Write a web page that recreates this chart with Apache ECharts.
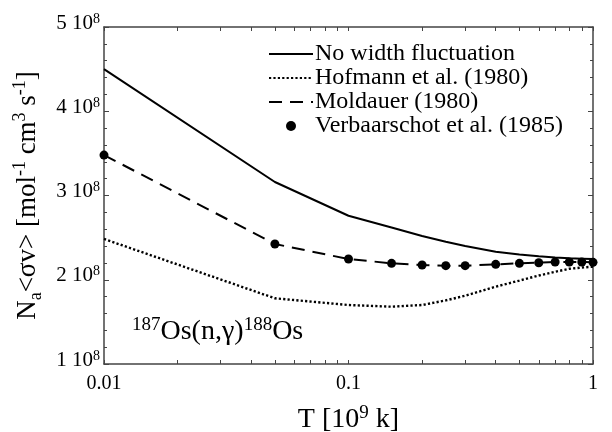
<!DOCTYPE html>
<html><head><meta charset="utf-8">
<script src="https://cdn.jsdelivr.net/npm/echarts@6/dist/echarts.min.js"></script>
<style>html,body{margin:0;padding:0;background:#fff}#c{width:612px;height:432px}</style>
</head><body><div id="c"></div>
<script>
// ---- data ----
const temps = [0.01, 0.05, 0.1, 0.15, 0.2, 0.25, 0.3, 0.4, 0.5, 0.6, 0.7, 0.8, 0.9, 1.0];
const noWidthFluct = [4.50e8, 3.16e8, 2.76e8, 2.62e8, 2.52e8, 2.45e8, 2.40e8, 2.333e8, 2.30e8, 2.28e8, 2.265e8, 2.255e8, 2.25e8, 2.245e8];
const hofmann = [2.484e8, 1.78e8, 1.70e8, 1.68e8, 1.70e8, 1.755e8, 1.81e8, 1.918e8, 1.99e8, 2.05e8, 2.095e8, 2.13e8, 2.145e8, 2.155e8];
const moldauer = [3.48e8, 2.424e8, 2.246e8, 2.195e8, 2.175e8, 2.167e8, 2.167e8, 2.183e8, 2.195e8, 2.202e8, 2.211e8, 2.211e8, 2.211e8, 2.207e8];
const verbaarschot = [3.48e8, 2.424e8, 2.246e8, 2.195e8, 2.175e8, 2.167e8, 2.167e8, 2.183e8, 2.195e8, 2.202e8, 2.211e8, 2.211e8, 2.211e8, 2.207e8];
const seriesNames = ['No width fluctuation', 'Hofmann et al. (1980)', 'Moldauer (1980)', 'Verbaarschot et al. (1985)'];
const xTickValues = [0.01, 0.02, 0.03, 0.04, 0.05, 0.06, 0.07, 0.08, 0.09, 0.1, 0.2, 0.3, 0.4, 0.5, 0.6, 0.7, 0.8, 0.9, 1];
const xTickLabels = [0.01, 0.1, 1];

const FONT = 'Liberation Serif';
const pairs = arr => temps.map((t, i) => [t, arr[i]]);

const chart = echarts.init(document.getElementById('c'), null, {renderer: 'canvas'});
const axisLine = {show: true, lineStyle: {color: '#444', width: 1.5}};
const xCommon = {
  type: 'log', logBase: 10, min: 0.01, max: 1,
  axisLine: axisLine,
  axisTick: {show: true, inside: true, length: 4, customValues: xTickValues, lineStyle: {color: '#444', width: 1}},
  splitLine: {show: false}, minorTick: {show: false}
};
const yCommon = {
  type: 'value', min: 1e8, max: 5e8, interval: 1e8,
  axisLine: axisLine,
  axisTick: {show: true, inside: true, length: 5, lineStyle: {color: '#444', width: 1}},
  minorTick: {show: true, splitNumber: 5, length: 3, lineStyle: {color: '#444', width: 1}},
  splitLine: {show: false}, minorSplitLine: {show: false}
};

chart.setOption({
  animation: false,
  backgroundColor: '#fff',
  grid: {left: 104, right: 19, top: 27, bottom: 68, containLabel: false, outerBoundsMode: 'none'},
  xAxis: [
    Object.assign({}, xCommon, {
      position: 'bottom',
      axisLabel: {show: true, customValues: xTickLabels, margin: 10, fontFamily: FONT, fontSize: 20, color: '#000',
        formatter: v => String(v)},
      name: '{b|T [10}{s|9}{b| k]}', nameLocation: 'middle', nameGap: 40,
      nameTextStyle: {rich: {
        b: {fontFamily: FONT, fontSize: 28, color: '#000', lineHeight: 32},
        s: {fontFamily: FONT, fontSize: 19, color: '#000', lineHeight: 20, verticalAlign: 'top'}
      }}
    }),
    Object.assign({}, xCommon, {position: 'top', axisLabel: {show: false}})
  ],
  yAxis: [
    Object.assign({}, yCommon, {
      position: 'left',
      axisLabel: {show: true, margin: 4, padding: [0, 0, 8, 0],
        formatter: v => '{b|' + Math.round(v / 1e8) + ' 10}{s|8}',
        rich: {
          b: {fontFamily: FONT, fontSize: 21, color: '#000', lineHeight: 22},
          s: {fontFamily: FONT, fontSize: 14, color: '#000', lineHeight: 14, verticalAlign: 'top'}
        }},
      name: '{b|N}{d|a}{b|<σv> [mol}{s|-1}{b| cm}{s|3}{b| s}{s|-1}{b|]}',
      nameLocation: 'middle', nameGap: 57, nameRotate: 90,
      nameTextStyle: {rich: {
        b: {fontFamily: FONT, fontSize: 27, color: '#000', lineHeight: 34},
        s: {fontFamily: FONT, fontSize: 18, color: '#000', lineHeight: 20, verticalAlign: 'top'},
        d: {fontFamily: FONT, fontSize: 18, color: '#000', lineHeight: 20, verticalAlign: 'bottom'}
      }}
    }),
    Object.assign({}, yCommon, {position: 'right', axisLabel: {show: false}})
  ],
  legend: {
    left: 268, top: 42, padding: 0, orient: 'vertical', itemWidth: 44, itemHeight: 10, itemGap: 0,
    data: [
      {name: seriesNames[0], itemStyle: {opacity: 0}},
      {name: seriesNames[1], itemStyle: {opacity: 0}},
      {name: seriesNames[2], itemStyle: {opacity: 0}},
      {name: seriesNames[3]}
    ],
    textStyle: {fontFamily: FONT, fontSize: 24, color: '#000', lineHeight: 23.3, padding: [0, 0, 0, -3]}
  },
  graphic: [{
    type: 'text', left: 132, top: 316, silent: true,
    style: {
      text: '{s|187}{b|Os(n,γ)}{s|188}{b|Os}',
      rich: {
        b: {fontFamily: FONT, fontSize: 28, fill: '#000', lineHeight: 32},
        s: {fontFamily: FONT, fontSize: 19, fill: '#000', lineHeight: 20, verticalAlign: 'top'}
      }
    }
  }],
  series: [
    {name: seriesNames[0], type: 'line', data: pairs(noWidthFluct), symbol: 'none',
      lineStyle: {color: '#000', width: 2, type: 'solid'}, itemStyle: {color: '#000'}},
    {name: seriesNames[1], type: 'line', data: pairs(hofmann), symbol: 'none',
      lineStyle: {color: '#000', width: 2.4, type: [2.2, 2.2]}, itemStyle: {color: '#000'}},
    {name: seriesNames[2], type: 'line', data: pairs(moldauer), symbol: 'none',
      lineStyle: {color: '#000', width: 2, type: [13, 8]}, itemStyle: {color: '#000'}},
    {name: seriesNames[3], type: 'scatter', data: pairs(verbaarschot), symbol: 'circle', symbolSize: 9,
      itemStyle: {color: '#000', opacity: 1}, z: 5}
  ]
});
</script>
</body></html>
